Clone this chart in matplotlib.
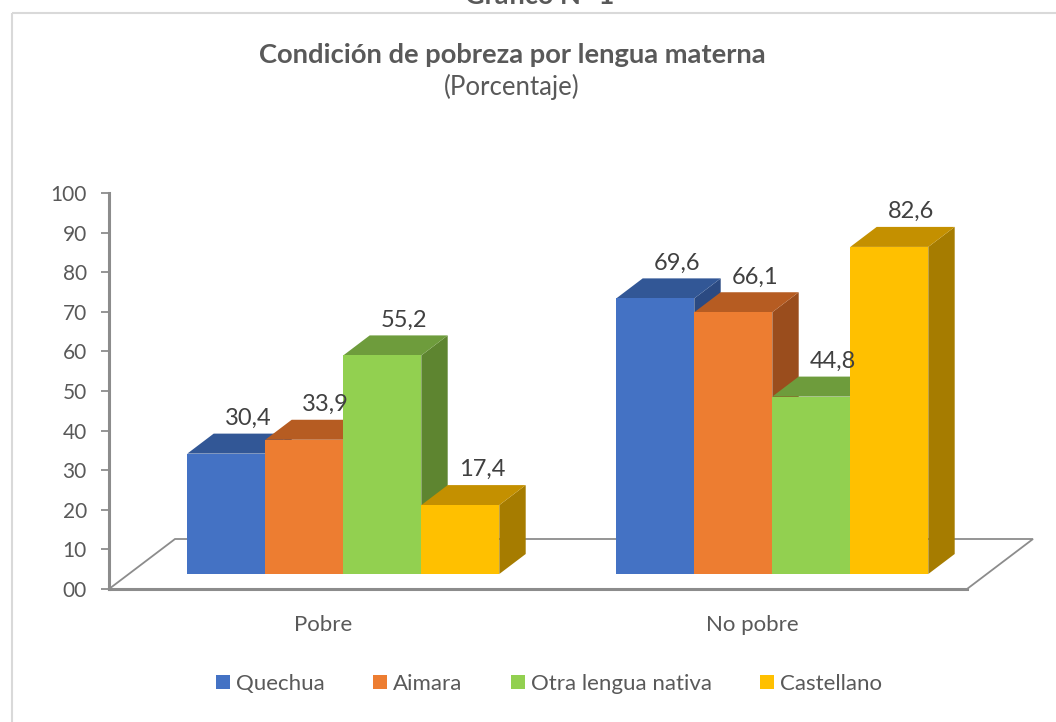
import matplotlib
matplotlib.use("Agg")
import matplotlib.pyplot as plt
from matplotlib.patches import Polygon, Rectangle, Patch

plt.rcParams['font.family'] = ['Lato', 'DejaVu Sans']

# ---- data ----
categories = ["Pobre", "No pobre"]
series = ["Quechua", "Aimara", "Otra lengua nativa", "Castellano"]
quechua = [30.4, 69.6]
aimara = [33.9, 66.1]
otra = [55.2, 44.8]
castellano = [17.4, 82.6]
values = [quechua, aimara, otra, castellano]
labels_txt = [["30,4", "69,6"], ["33,9", "66,1"], ["55,2", "44,8"], ["17,4", "82,6"]]
yticks = [0, 10, 20, 30, 40, 50, 60, 70, 80, 90, 100]
ytick_labels = ["00", "10", "20", "30", "40", "50", "60", "70", "80", "90", "100"]

# ---- style ----
front_c = ["#4472C4", "#ED7D31", "#92D050", "#FFC000"]
top_c = ["#325796", "#B65C22", "#6E9C3C", "#C49000"]
side_c = ["#2B4A82", "#9A4D1D", "#5E8530", "#A67C00"]
txt_c = "#595959"
W, H = 1056, 722
fig = plt.figure(figsize=(W / 100, H / 100), dpi=100)

# chart border
fig.add_artist(Rectangle((12 / W, 1 - 13 / H), 1.2, -1.2, transform=fig.transFigure,
                         fill=False, edgecolor="#D9D9D9", lw=1.5))

px_x0, px_x1 = 109, 1040
px_y0, px_y1 = 589, 193
floor_px = 858  # pixels for 2 categories
ax = fig.add_axes([px_x0 / W, (H - px_y0) / H, (px_x1 - px_x0) / W, (px_y0 - px_y1) / H])
xmax = (px_x1 - px_x0) / (floor_px / 2)
ax.set_xlim(0, xmax)
ax.set_ylim(0, 100)
ax.patch.set_alpha(0)

ppu_x = floor_px / 2
ppu_y = (px_y0 - px_y1) / 100
ddx = 66 / ppu_x     # full floor depth (x)
ddy = 50 / ppu_y     # full floor depth (y)

# floor
ncat = len(categories)
floor = Polygon([(0, 0), (ncat, 0), (ncat + ddx, ddy), (ddx, ddy)], closed=True,
                fill=False, edgecolor="#8C8C8C", lw=1.3, clip_on=False, zorder=1)
ax.add_patch(floor)
ax.plot([0, ncat], [0, 0], color="#8C8C8C", lw=2.2, clip_on=False, zorder=1.5)

# bars
z0, z1 = 0.3, 0.7
bw = 78 / ppu_x
nser = len(series)
z = 2
for ci in range(ncat):
    center = ci + 0.5
    for si in range(nser):
        v = values[si][ci]
        left = center - nser * bw / 2 + si * bw
        fx0 = left + z0 * ddx
        fx1 = fx0 + bw
        fy0 = z0 * ddy
        fy1 = fy0 + v
        ox, oy = (z1 - z0) * ddx, (z1 - z0) * ddy
        side = Polygon([(fx1, fy0), (fx1 + ox, fy0 + oy), (fx1 + ox, fy1 + oy), (fx1, fy1)],
                       closed=True, facecolor=side_c[si], edgecolor="none", zorder=z, clip_on=False)
        top = Polygon([(fx0, fy1), (fx1, fy1), (fx1 + ox, fy1 + oy), (fx0 + ox, fy1 + oy)],
                      closed=True, facecolor=top_c[si], edgecolor="none", zorder=z, clip_on=False)
        front = Rectangle((fx0, fy0), bw, v, facecolor=front_c[si], edgecolor="none",
                          zorder=z, clip_on=False)
        ax.add_patch(side)
        ax.add_patch(top)
        ax.add_patch(front)
        z += 0.01
        ax.annotate(labels_txt[si][ci], xy=(fx0 + bw / 2 + ox / 2, fy1 + oy),
                    xytext=(6, 11), textcoords="offset points", ha="center", va="center",
                    fontsize=17, color="#404040", zorder=10, annotation_clip=False)

# axes styling
for s in ["top", "right", "bottom"]:
    ax.spines[s].set_visible(False)
ax.spines["left"].set_color("#8C8C8C")
ax.spines["left"].set_linewidth(2.2)
ax.set_yticks(yticks)
ax.set_yticklabels(ytick_labels)
ax.tick_params(axis="y", length=6, width=1.3, color="#8C8C8C", pad=10, labelsize=15,
               labelcolor=txt_c)
ax.set_xticks([i + 0.5 for i in range(ncat)])
ax.set_xticklabels(categories)
ax.tick_params(axis="x", length=0, pad=19, labelsize=16, labelcolor=txt_c)

# titles
fig.text(540 / W, 1 - 4 / H, "Gráfico N° 1", ha="center", va="baseline", fontsize=19.5,
         fontweight="bold", color=txt_c)
fig.text(512 / W, 1 - 55 / H, "Condición de pobreza por lengua materna", ha="center",
         va="center", fontsize=19.7, fontweight="bold", color=txt_c)
fig.text(512 / W, 1 - 87 / H, "(Porcentaje)", ha="center", va="center", fontsize=18.5,
         color=txt_c)

# legend
handles = [Patch(facecolor=c, edgecolor="none") for c in front_c]
fs = 16
fpx = fs * 100 / 72
fig.legend(handles, series, loc="center", bbox_to_anchor=(549 / W, 1 - 684 / H),
           ncol=4, frameon=False, fontsize=fs, labelcolor=txt_c,
           handlelength=14 / fpx, handleheight=14 / fpx, handletextpad=6 / fpx,
           columnspacing=48 / fpx, borderpad=0)

fig.savefig("out.png", dpi=100)
